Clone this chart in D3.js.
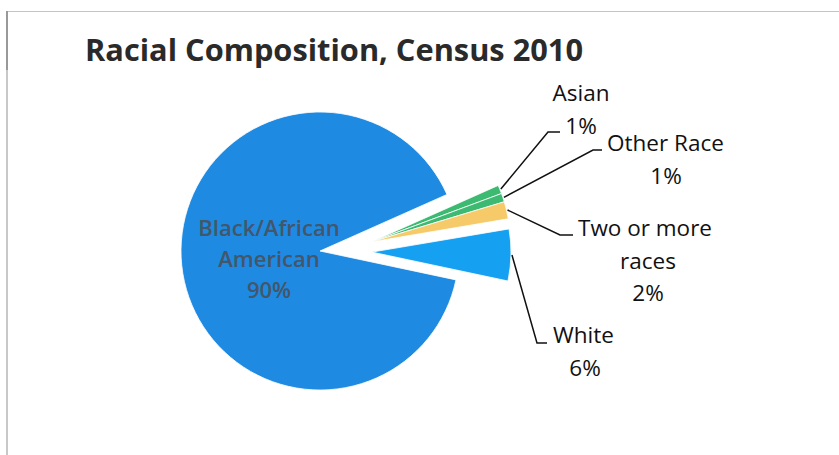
<!DOCTYPE html>
<html>
<head>
<meta charset="utf-8">
<script src="https://cdn.jsdelivr.net/npm/d3@7"></script>
<style>
  html, body { margin: 0; padding: 0; background: #fff; }
  svg { display: block; }
</style>
</head>
<body>
<svg id="chart" width="839" height="455"></svg>
<script>
// ---- data ----
const title = "Racial Composition, Census 2010";
const categories = ["Black/African American", "Asian", "Other Race", "Two or more races", "White"];
const values = [90, 1, 1, 2, 6];
const percentLabels = ["90%", "1%", "1%", "2%", "6%"];
const labelLines = [["Black/African", "American"], ["Asian"], ["Other Race"], ["Two or more", "races"], ["White"]];
const colors = ["#1e8ae2", "#3dba72", "#3dba72", "#f6c969", "#15a0f2"];

// ---- layout ----
const svg = d3.select("#chart");
const W = 839, H = 455;
const cx = 320, cy = 251, r = 139;
const explode = [0, 52, 52, 52, 52];
// explosion direction in screen degrees (null = along the slice's mid angle)
const explodeDir = [null, -10, -10, -10, null];
const startA = 102 * Math.PI / 180;
const FONT = "'Open Sans', 'Noto Sans', sans-serif";

// frame
svg.append("line").attr("x1", 6).attr("x2", W).attr("y1", 11.5).attr("y2", 11.5)
  .attr("stroke", "#c4c4c4").attr("stroke-width", 1);
svg.append("line").attr("x1", 7).attr("x2", 7).attr("y1", 11).attr("y2", H)
  .attr("stroke", "#c8c8c8").attr("stroke-width", 2);
svg.append("line").attr("x1", 7).attr("x2", 7).attr("y1", 11).attr("y2", 70)
  .attr("stroke", "#8a8a8a").attr("stroke-width", 1.5);

svg.append("text").attr("x", 85).attr("y", 61)
  .attr("font-family", FONT)
  .attr("font-weight", "bold").attr("font-size", 31)
  .attr("textLength", 498).attr("lengthAdjust", "spacingAndGlyphs")
  .attr("fill", "#2a2a2a").text(title);

const pie = d3.pie().sort(null).value(d => d)
  .startAngle(startA).endAngle(startA + 2 * Math.PI);
const arcs = pie(values);
const arc = d3.arc().innerRadius(0).outerRadius(r);

const g = svg.append("g").attr("transform", `translate(${cx},${cy})`);

function offset(a, i) {
  let ang;
  if (explodeDir[i] === null) {
    const m = (a.startAngle + a.endAngle) / 2;
    ang = m - Math.PI / 2;
  } else {
    ang = explodeDir[i] * Math.PI / 180;
  }
  return [Math.cos(ang) * explode[i], Math.sin(ang) * explode[i]];
}

g.selectAll("path").data(arcs).join("path")
  .attr("d", arc)
  .attr("transform", (a, i) => { const o = offset(a, i); return `translate(${o[0]},${o[1]})`; })
  .attr("fill", (a, i) => colors[i])
  .attr("stroke", "#fff").attr("stroke-width", 0.8);

// inside label for largest slice
const inside = svg.append("text")
  .attr("font-family", FONT).attr("font-weight", 600)
  .attr("font-size", 22).attr("fill", "#43566a").attr("text-anchor", "middle");
[...labelLines[0], percentLabels[0]].forEach((t, k) => {
  inside.append("tspan").attr("x", 269).attr("y", 236 + k * 31).text(t);
});

// outside labels (layout anchors)
const labelPos = [null,
  { x: 581, y: 101, elbow: [548, 132], end: [560, 132] },
  { x: 666, y: 151, firstX: 607, elbow: [593, 150], end: [602, 150] },
  { x: 648, y: 236, firstX: 578, elbow: [560, 235], end: [573, 235] },
  { x: 585, y: 343, firstX: 553, elbow: [537, 343], end: [547, 343] }
];
const lineH = 32.5;

arcs.forEach((a, i) => {
  if (i === 0) return;
  const p = labelPos[i];
  const o = offset(a, i);
  const m = (a.startAngle + a.endAngle) / 2;
  const sx = cx + o[0] + Math.sin(m) * (r + 1);
  const sy = cy + o[1] - Math.cos(m) * (r + 1);
  svg.append("polyline")
    .attr("points", [[sx, sy], p.elbow, p.end].map(q => q.join(",")).join(" "))
    .attr("fill", "none").attr("stroke", "#111").attr("stroke-width", 1.5);

  const t = svg.append("text")
    .attr("font-family", FONT)
    .attr("font-size", 22.5).attr("fill", "#111");
  const lines = [...labelLines[i], percentLabels[i]];
  lines.forEach((s, k) => {
    const ts = t.append("tspan").attr("y", p.y + k * lineH).text(s);
    if (k === 0 && p.firstX !== undefined) {
      ts.attr("x", p.firstX).attr("text-anchor", "start");
    } else {
      ts.attr("x", p.x).attr("text-anchor", "middle");
    }
  });
});
</script>
</body>
</html>
